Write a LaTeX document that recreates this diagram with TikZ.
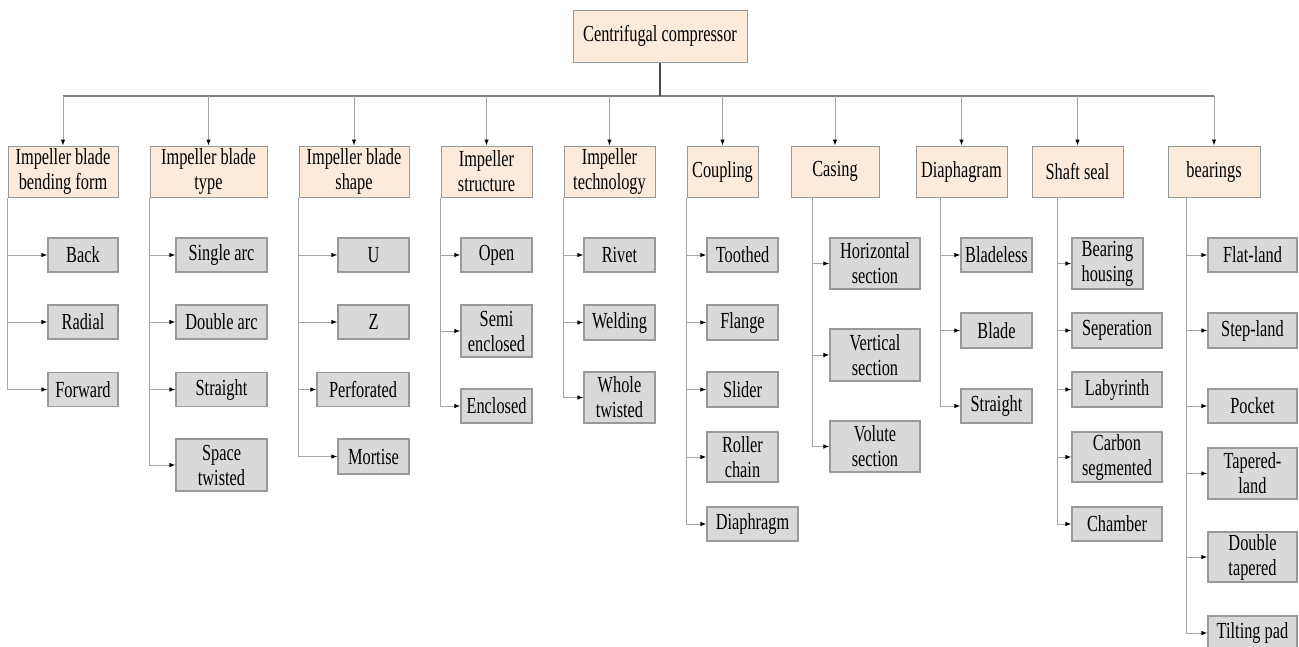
\documentclass[tikz,border=0pt]{standalone}
\usepackage{fontspec}
\setmainfont{Liberation Serif}[FakeStretch=0.71]
\usetikzlibrary{arrows.meta}

\definecolor{catfill}{HTML}{FCEADB}
\definecolor{leaffill}{HTML}{D9D9D9}
\definecolor{boxline}{HTML}{999999}
\definecolor{linkgray}{HTML}{A6A6A6}

\begin{document}
\begin{tikzpicture}[x=1pt,y=1pt,
  every node/.style={inner sep=0pt, align=center, font=\fontsize{23}{25}\selectfont},
  cat/.style={draw=boxline, fill=catfill, line width=1pt, minimum height=51},
  leaf/.style={draw=boxline, fill=leaffill, line width=1.2pt, minimum height=34},
  link/.style={draw=linkgray, line width=1pt, -{Latex[length=6pt,width=4.5pt,color=black]}},
  bus/.style={draw=gray, line width=1.6pt},
  trunk/.style={draw=black!70, line width=2.2pt}]
\useasboundingbox (0,0) rectangle (1299,-646);
% root and bus
\node[cat, minimum width=174, minimum height=52] (root) at (660,-36) {Centrifugal compressor};
\coordinate (busL) at (63,-96);
\coordinate (busR) at (1214,-96);
\draw[bus] (busL) -- (busR);
\draw[trunk] (root.south) -- (root.south |- busL);
% categories
\node[cat, minimum width=110] (bend) at (63,-171.5) {Impeller blade\\bending form};
\node[cat, minimum width=117] (btype) at (208.5,-171.5) {Impeller blade\\type};
\node[cat, minimum width=110] (bshape) at (354,-171.5) {Impeller blade\\shape};
\node[cat, minimum width=91] (struct) at (486.5,-171.5) {Impeller\\structure};
\node[cat, minimum width=91] (tech) at (609.5,-171.5) {Impeller\\technology};
\node[cat, minimum width=71] (coup) at (722.5,-171.5) {Coupling};
\node[cat, minimum width=88] (casing) at (835,-171.5) {Casing};
\node[cat, minimum width=91] (diaph) at (961.5,-171.5) {Diaphagram};
\node[cat, minimum width=91] (seal) at (1077.5,-171.5) {Shaft seal};
\node[cat, minimum width=92] (bear) at (1214,-171.5) {bearings};
\draw[link] (bend.north |- busL) -- (bend.north);
\draw[link] (btype.north |- busL) -- (btype.north);
\draw[link] (bshape.north |- busL) -- (bshape.north);
\draw[link] (struct.north |- busL) -- (struct.north);
\draw[link] (tech.north |- busL) -- (tech.north);
\draw[link] (coup.north |- busL) -- (coup.north);
\draw[link] (casing.north |- busL) -- (casing.north);
\draw[link] (diaph.north |- busL) -- (diaph.north);
\draw[link] (seal.north |- busL) -- (seal.north);
\draw[link] (bear.north |- busL) -- (bear.north);
% bending form
\node[leaf, minimum width=70] (back) at (83,-255) {Back};
\node[leaf, minimum width=70] (radial) at (83,-322) {Radial};
\node[leaf, minimum width=70] (forward) at (83,-389.5) {Forward};
\draw[link] (bend.south west) |- (back);
\draw[link] (bend.south west) |- (radial);
\draw[link] (bend.south west) |- (forward);
% blade type
\node[leaf, minimum width=91] (single) at (221.5,-255) {Single arc};
\node[leaf, minimum width=91] (double) at (221.5,-322) {Double arc};
\node[leaf, minimum width=91] (straightA) at (221.5,-389.5) {Straight};
\node[leaf, minimum width=91, minimum height=52] (space) at (221.5,-465) {Space\\twisted};
\draw[link] (btype.south west) |- (single);
\draw[link] (btype.south west) |- (double);
\draw[link] (btype.south west) |- (straightA);
\draw[link] (btype.south west) |- (space);
% blade shape
\node[leaf, minimum width=71] (shapeU) at (373.5,-255) {U};
\node[leaf, minimum width=71] (shapeZ) at (373.5,-322) {Z};
\node[leaf, minimum width=92] (perf) at (363,-389.5) {Perforated};
\node[leaf, minimum width=71, minimum height=35] (mortise) at (373.5,-456.5) {Mortise};
\draw[link] (bshape.south west) |- (shapeU);
\draw[link] (bshape.south west) |- (shapeZ);
\draw[link] (bshape.south west) |- (perf);
\draw[link] (bshape.south west) |- (mortise);
% structure
\node[leaf, minimum width=71] (open) at (496.5,-255) {Open};
\node[leaf, minimum width=71, minimum height=52] (semi) at (496.5,-331) {Semi\\enclosed};
\node[leaf, minimum width=71] (encl) at (496.5,-406) {Enclosed};
\draw[link] (struct.south west) |- (open);
\draw[link] (struct.south west) |- (semi);
\draw[link] (struct.south west) |- (encl);
% technology
\node[leaf, minimum width=71] (rivet) at (619.5,-255) {Rivet};
\node[leaf, minimum width=71, minimum height=35] (weld) at (619.5,-322.5) {Welding};
\node[leaf, minimum width=71, minimum height=51] (whole) at (619.5,-397.5) {Whole\\twisted};
\draw[link] (tech.south west) |- (rivet);
\draw[link] (tech.south west) |- (weld);
\draw[link] (tech.south west) |- (whole);
% coupling
\node[leaf, minimum width=71] (tooth) at (742.5,-255) {Toothed};
\node[leaf, minimum width=71, minimum height=35] (flange) at (742.5,-322.5) {Flange};
\node[leaf, minimum width=71, minimum height=35] (slider) at (742.5,-389.5) {Slider};
\node[leaf, minimum width=71, minimum height=50] (roller) at (742.5,-457) {Roller\\chain};
\node[leaf, minimum width=91] (diaphragm) at (752.5,-524) {Diaphragm};
\draw[link] (coup.south west) |- (tooth);
\draw[link] (coup.south west) |- (flange);
\draw[link] (coup.south west) |- (slider);
\draw[link] (coup.south west) |- (roller);
\draw[link] (coup.south west) |- (diaphragm);
% casing
\node[leaf, minimum width=90, minimum height=51] (hsec) at (875,-263.5) {Horizontal\\section};
\node[leaf, minimum width=90, minimum height=52] (vsec) at (875,-355) {Vertical\\section};
\node[leaf, minimum width=90, minimum height=51] (volute) at (875,-446.5) {Volute\\section};
\draw[link] ([xshift=22pt]casing.south west) |- (hsec);
\draw[link] ([xshift=22pt]casing.south west) |- (vsec);
\draw[link] ([xshift=22pt]casing.south west) |- (volute);
% diaphagram
\node[leaf, minimum width=71] (bladeless) at (996.5,-255) {Bladeless};
\node[leaf, minimum width=71, minimum height=35] (blade) at (996.5,-330.5) {Blade};
\node[leaf, minimum width=71] (straightB) at (996.5,-406) {Straight};
\draw[link] ([xshift=25pt]diaph.south west) |- (bladeless);
\draw[link] ([xshift=25pt]diaph.south west) |- (blade);
\draw[link] ([xshift=25pt]diaph.south west) |- (straightB);
% shaft seal
\node[leaf, minimum width=71, minimum height=51] (housing) at (1107.5,-263.5) {Bearing\\housing};
\node[leaf, minimum width=90, minimum height=35] (sep) at (1117,-330.5) {Seperation};
\node[leaf, minimum width=90, minimum height=35] (laby) at (1117,-389.5) {Labyrinth};
\node[leaf, minimum width=90, minimum height=50] (carbon) at (1117,-457) {Carbon\\segmented};
\node[leaf, minimum width=90] (chamber) at (1117,-524) {Chamber};
\draw[link] ([xshift=26pt]seal.south west) |- (housing);
\draw[link] ([xshift=26pt]seal.south west) |- (sep);
\draw[link] ([xshift=26pt]seal.south west) |- (laby);
\draw[link] ([xshift=26pt]seal.south west) |- (carbon);
\draw[link] ([xshift=26pt]seal.south west) |- (chamber);
% bearings
\node[leaf, minimum width=89] (flat) at (1252.5,-255) {Flat-land};
\node[leaf, minimum width=89, minimum height=35] (step) at (1252.5,-330.5) {Step-land};
\node[leaf, minimum width=89] (pocket) at (1252.5,-406) {Pocket};
\node[leaf, minimum width=89, minimum height=51] (taper) at (1252.5,-473.5) {Tapered-\\land};
\node[leaf, minimum width=89, minimum height=50] (dtaper) at (1252.5,-557) {Double\\tapered};
\node[leaf, minimum width=89] (tilt) at (1252.5,-633) {Tilting pad};
\draw[link] ([xshift=19pt]bear.south west) |- (flat);
\draw[link] ([xshift=19pt]bear.south west) |- (step);
\draw[link] ([xshift=19pt]bear.south west) |- (pocket);
\draw[link] ([xshift=19pt]bear.south west) |- (taper);
\draw[link] ([xshift=19pt]bear.south west) |- (dtaper);
\draw[link] ([xshift=19pt]bear.south west) |- (tilt);
\end{tikzpicture}
\end{document}
